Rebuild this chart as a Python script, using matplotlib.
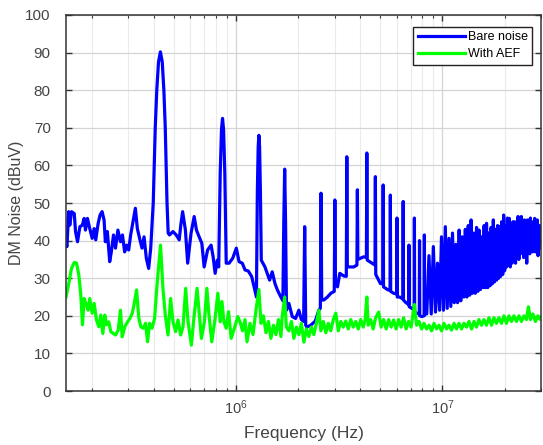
import numpy as np
import matplotlib.pyplot as plt
from matplotlib.ticker import LogLocator, NullFormatter

plt.rcParams['font.family'] = ['Liberation Sans', 'DejaVu Sans']

# ---- Bare noise (blue), frequency in MHz / level in dBuV ----
# low-frequency broadband part
bare_low_f = [0.150, 0.1516, 0.1546, 0.1565, 0.1595, 0.1645, 0.1669, 0.1706, 0.1752, 0.1800,
              0.1837, 0.1864, 0.1906, 0.1956, 0.2009, 0.2054, 0.2091, 0.2148, 0.2194, 0.2244,
              0.2294, 0.2327, 0.2380, 0.2443, 0.2487, 0.2549, 0.2606, 0.2677, 0.2755, 0.2817,
              0.2886, 0.2951, 0.3018, 0.3086, 0.3167, 0.3253, 0.3325, 0.3410, 0.3503, 0.3583,
              0.3676, 0.3773, 0.386]
bare_low_db = [39.5, 38.4, 47.7, 44.1, 47.7, 47.2, 42.4, 39.7, 43.7, 44.1,
               45.9, 42.8, 45.9, 43.2, 40.6, 43.2, 40.2, 44.6, 46.8, 47.7,
               45.5, 39.7, 42.4, 34.4, 37.0, 41.5, 38.0, 42.8, 39.7, 41.5,
               37.0, 38.8, 37.5, 41.5, 45.0, 48.6, 43.2, 40.6, 38.0, 41.0,
               35.3, 32.6, 38.0]

# first harmonics and the floor between them (0.39 - 8.4 MHz)
bare_mid_f = [0.397, 0.406, 0.413, 0.421, 0.430, 0.439, 0.447, 0.454, 0.463, 0.469,
              0.4759, 0.4949, 0.5130, 0.5304, 0.5395, 0.5510, 0.5684, 0.5829, 0.6050, 0.6267,
              0.6430, 0.6626, 0.6826, 0.7005, 0.7280, 0.7568, 0.7743, 0.7917, 0.8117,
              0.824, 0.838, 0.850, 0.860, 0.870, 0.882, 0.896,
              0.925, 0.963, 1.003, 1.034, 1.072, 1.105, 1.147, 1.191, 1.222,
              1.255, 1.268, 1.280, 1.290, 1.300, 1.312, 1.325,
              1.380, 1.416, 1.454, 1.497, 1.543, 1.585, 1.648,
              1.686, 1.703, 1.720, 1.737, 1.755,
              1.803, 1.872, 1.943, 2.015, 2.072,
              2.125, 2.150, 2.175, 2.203, 2.300, 2.420, 2.518,
              2.560, 2.580, 2.600, 2.662, 2.770, 2.880,
              2.990, 3.010, 3.030, 3.100, 3.180, 3.325,
              3.420, 3.440, 3.460, 3.716,
              3.850, 3.870, 3.890, 4.154,
              4.280, 4.300, 4.320, 4.550,
              4.710, 4.730, 4.750, 5.000,
              5.140, 5.160, 5.180, 5.440,
              5.570, 5.590, 5.610, 5.800,
              6.000, 6.020, 6.040, 6.200,
              6.430, 6.450, 6.470, 6.650,
              6.860, 6.880, 6.900, 7.100,
              7.290, 7.310, 7.330, 7.500,
              7.720, 7.740, 7.760, 7.950,
              8.150, 8.170, 8.190, 8.390]
bare_mid_db = [50.0, 70.0, 80.0, 87.5, 90.2, 87.5, 80.0, 70.0, 50.0, 42.0,
               41.5, 42.4, 41.5, 40.2, 44.0, 47.7, 42.8, 34.0, 41.9, 46.4,
               42.8, 41.0, 39.3, 33.0, 37.5, 38.8, 35.7, 31.3, 34.8,
               33.0, 58.0, 69.5, 72.5, 69.5, 58.0, 34.0,
               34.0, 35.3, 38.0, 34.4, 34.0, 32.2, 31.9, 30.4, 27.7,
               25.0, 53.0, 65.0, 68.0, 65.0, 53.0, 34.8,
               33.0, 31.3, 29.5, 31.7, 28.6, 26.9, 25.0,
               24.0, 45.0, 59.0, 45.0, 21.5,
               23.3, 19.8, 19.3, 21.5, 19.0,
               18.5, 43.7, 17.5, 17.0, 17.5, 18.6, 21.5,
               22.0, 52.6, 24.2, 24.2, 25.0, 26.0,
               26.5, 50.8, 29.5, 27.7, 31.3, 30.6,
               30.5, 62.3, 33.0, 33.0,
               33.5, 53.5, 35.0, 35.7,
               35.5, 63.3, 34.8, 34.0,
               33.5, 57.0, 31.0, 28.6,
               28.5, 54.8, 27.7, 26.9,
               26.8, 52.1, 26.5, 26.0,
               25.8, 46.0, 25.0, 25.0,
               24.5, 50.4, 24.2, 23.5,
               23.0, 38.8, 22.4, 22.0,
               21.5, 46.0, 21.0, 20.7,
               20.5, 40.0, 20.0, 19.8,
               20.0, 41.5, 20.5, 20.5]

# dense harmonic comb above 8.5 MHz: peak tops and valleys between them
comb_peak_f = [8.60, 9.03, 9.46, 9.89, 10.32, 10.75, 11.18, 11.61, 12.04, 12.47,
               12.90, 13.33, 13.76, 14.19, 14.62, 15.05, 15.48, 15.91, 16.34, 16.77,
               17.20, 17.63, 18.06, 18.49, 18.92, 19.35, 19.78, 20.21, 20.64, 21.07,
               21.50, 21.93, 22.36, 22.79, 23.22, 23.65, 24.08, 24.51, 24.94, 25.37,
               25.80, 26.23, 26.66, 27.09, 27.52, 27.95, 28.38, 28.81, 29.24, 29.67]
comb_peak_db = [36.0, 38.4, 34.0, 41.0, 43.7, 40.6, 42.0, 39.0, 42.8, 41.0,
                43.0, 44.0, 45.5, 42.0, 43.5, 42.8, 41.0, 44.0, 44.6, 42.0,
                43.5, 45.5, 43.0, 44.0, 43.7, 45.0, 46.8, 44.0, 46.0, 45.9,
                43.0, 45.0, 45.0, 44.0, 46.4, 45.0, 46.4, 44.6, 45.5, 43.0,
                45.5, 44.0, 46.0, 45.0, 44.6, 45.9, 44.0, 45.5, 42.8, 44.0]
comb_valley_f = [8.82, 9.25, 9.68, 10.11, 10.54, 10.97, 11.40, 11.83, 12.26, 12.69,
                 13.12, 13.55, 13.98, 14.41, 14.84, 15.27, 15.70, 16.13, 16.56, 16.99,
                 17.42, 17.85, 18.28, 18.71, 19.14, 19.57, 20.00, 20.43, 20.86, 21.29,
                 21.72, 22.15, 22.58, 23.01, 23.44, 23.87, 24.30, 24.73, 25.16, 25.59,
                 26.02, 26.45, 26.88, 27.31, 27.74, 28.17, 28.60, 29.03, 29.46, 29.89]
comb_valley_db = [20.5, 21.0, 21.5, 21.5, 22.0, 22.5, 23.5, 23.5, 24.0, 25.0,
                  25.0, 25.5, 26.0, 26.0, 26.5, 27.0, 27.5, 27.5, 27.5, 28.0,
                  28.5, 29.0, 29.5, 30.0, 30.5, 31.0, 32.0, 33.0, 33.5, 33.0,
                  34.0, 35.0, 34.0, 36.0, 35.0, 36.5, 37.0, 35.5, 37.5, 34.0,
                  38.0, 36.5, 38.0, 37.0, 39.0, 37.0, 38.5, 36.0, 39.0, 38.0]

# ---- With AEF (green) ----
aef_f = [0.150, 0.1548, 0.1595, 0.1645, 0.1687, 0.1731, 0.1770, 0.1803, 0.1837, 0.1885,
         0.1921, 0.1956, 0.2009, 0.2054, 0.2108, 0.2163, 0.2212, 0.2262, 0.2313, 0.2357,
         0.2418, 0.2473, 0.2540, 0.2606, 0.2685, 0.2755, 0.2807, 0.2892, 0.2981, 0.3059,
         0.3142, 0.3213, 0.3296, 0.3382, 0.3458, 0.3552, 0.3644, 0.3726, 0.3813, 0.3917,
         0.4030, 0.4152, 0.4306, 0.4424, 0.4541, 0.4681, 0.4818, 0.4949, 0.5096, 0.5234,
         0.5390, 0.5535, 0.5700, 0.5854, 0.6075, 0.6246, 0.6474, 0.6620, 0.6794, 0.7026,
         0.7218, 0.7380, 0.7627, 0.7917, 0.8160, 0.8383, 0.8544, 0.8735, 0.8958, 0.9197,
         0.9467, 0.9814, 1.0193, 1.045, 1.075, 1.105, 1.130, 1.168, 1.208, 1.249,
         1.290, 1.321, 1.357, 1.396, 1.435, 1.475, 1.517, 1.560, 1.604, 1.650,
         1.674, 1.720, 1.752, 1.803, 1.854, 1.906, 1.960, 2.015, 2.072, 2.131,
         2.191, 2.252, 2.316, 2.381, 2.449, 2.518, 2.575, 2.647, 2.722, 2.798,
         2.877, 2.958, 3.042, 3.128, 3.216, 3.306, 3.400, 3.496, 3.594, 3.695,
         3.800, 3.907, 4.017, 4.130, 4.223, 4.300, 4.365, 4.488, 4.614, 4.745,
         4.908, 5.045, 5.188, 5.334, 5.485, 5.640, 5.799, 5.962, 6.130, 6.303,
         6.481, 6.664, 6.851, 7.045, 7.310, 7.490, 7.700, 7.920, 8.140, 8.370,
         8.610, 8.850, 9.100, 9.360, 9.620, 9.890, 10.17, 10.46, 10.75, 11.05,
         11.37, 11.69, 12.02, 12.36, 12.71, 13.07, 13.44, 13.82, 14.21, 14.61,
         15.02, 15.45, 15.88, 16.33, 16.79, 17.27, 17.75, 18.25, 18.77, 19.30,
         19.85, 20.41, 20.98, 21.58, 22.19, 22.81, 23.46, 24.12, 24.80, 25.50,
         26.07, 26.66, 27.41, 28.18, 28.98, 29.80, 30.08]
aef_db = [25.0, 28.6, 32.6, 34.2, 34.0, 30.9, 25.5, 17.6, 24.6, 22.9,
          21.5, 24.6, 20.7, 23.3, 18.9, 17.1, 20.2, 15.3, 20.2, 17.6,
          18.4, 15.8, 15.3, 14.9, 16.2, 21.5, 14.4, 17.1, 18.4, 19.3,
          20.7, 23.3, 26.9, 19.3, 17.1, 16.7, 18.0, 13.1, 18.0, 16.7,
          19.3, 29.0, 38.8, 27.3, 20.2, 14.9, 24.6, 18.4, 15.8, 18.9,
          14.9, 17.1, 27.3, 18.4, 12.2, 19.3, 27.3, 21.1, 14.0, 18.4,
          27.3, 20.7, 13.1, 19.3, 26.0, 18.4, 23.8, 18.4, 16.7, 21.1,
          14.0, 16.7, 19.8, 18.4, 16.0, 19.0, 13.1, 18.0, 15.0, 21.5,
          27.0, 18.0, 20.0, 15.5, 18.5, 14.0, 17.5, 15.0, 19.0, 14.5,
          20.0, 25.0, 17.0, 16.0, 18.5, 14.0, 17.0, 15.0, 18.0, 13.0,
          16.5, 14.5, 17.0, 15.0, 18.0, 21.5, 16.0, 18.5, 15.5, 18.0,
          16.0, 19.0, 20.7, 16.0, 18.5, 17.0, 18.6, 16.5, 19.0, 17.0,
          18.5, 16.5, 19.0, 17.0, 19.0, 25.0, 17.5, 19.0, 16.5, 19.5,
          21.0, 17.0, 19.0, 16.5, 19.0, 17.0, 18.9, 16.5, 19.0, 17.0,
          19.5, 16.5, 18.5, 17.0, 23.0, 17.5, 18.5, 16.5, 18.0, 16.5,
          17.5, 16.0, 18.0, 16.5, 17.5, 16.0, 18.0, 16.5, 17.5, 16.2,
          18.0, 16.5, 18.0, 16.5, 18.0, 17.0, 18.5, 16.5, 18.5, 17.0,
          19.0, 17.5, 19.0, 17.5, 19.5, 17.5, 19.5, 18.0, 19.5, 18.0,
          20.0, 18.0, 20.0, 18.5, 20.0, 18.5, 20.0, 18.5, 20.0, 19.0,
          22.4, 19.0, 20.5, 18.5, 20.0, 19.0, 19.5]

# assemble the blue trace (comb peaks and valleys alternate)
comb_f, comb_db = [], []
for pf, pv, vf, vv in zip(comb_peak_f, comb_peak_db, comb_valley_f, comb_valley_db):
    comb_f += [pf, vf]
    comb_db += [pv, vv]
bare_f = np.array(bare_low_f + bare_mid_f + comb_f) * 1e6
bare_db = np.array(bare_low_db + bare_mid_db + comb_db)
aef_hz = np.array(aef_f) * 1e6

fig = plt.figure(figsize=(5.43, 4.45), dpi=100)
ax = fig.add_axes([0.1215, 0.1213, 0.8748, 0.845])

ax.plot(bare_f, bare_db, color='#0000ff', lw=2.3, label='Bare noise', solid_joinstyle='round')
ax.plot(aef_hz, aef_db, color='#00ff00', lw=2.3, label='With AEF', solid_joinstyle='round')

ax.set_xscale('log')
ax.set_xlim(1.5e5, 3e7)
ax.set_ylim(0, 100)
ax.set_yticks(np.arange(0, 101, 10))
ax.xaxis.set_major_locator(LogLocator(base=10, numticks=10))
ax.xaxis.set_minor_locator(LogLocator(base=10, subs=np.arange(2, 10), numticks=20))
ax.xaxis.set_minor_formatter(NullFormatter())

ax.grid(True, which='major', color='#d4d4d4', lw=0.9)
ax.grid(True, which='minor', axis='x', color='#ebebeb', lw=0.8)
ax.set_axisbelow(True)

ax.tick_params(which='both', direction='in', top=True, right=True,
               colors='#333333', labelcolor='#444444', labelsize=10.5)
ax.tick_params(which='major', length=4, width=1, pad=5)
ax.tick_params(which='minor', length=2.5, width=0.8)
ax.tick_params(axis='y', labelsize=11, pad=11)
for s in ax.spines.values():
    s.set_color('#333333')
    s.set_linewidth(1.1)

ax.set_xlabel('Frequency (Hz)', fontsize=12.5, color='#444444', labelpad=7)
ax.set_ylabel('DM Noise (dBuV)', fontsize=11.5, color='#444444', labelpad=1)

leg = ax.legend(loc='upper right', bbox_to_anchor=(0.981, 0.968), borderaxespad=0,
                fontsize=9, handlelength=3.8, handletextpad=0.2, labelspacing=0.4,
                borderpad=0.35, fancybox=False, framealpha=1)
leg.get_frame().set_edgecolor('#222222')
leg.get_frame().set_linewidth(1.0)

fig.savefig('out.png', dpi=100)
